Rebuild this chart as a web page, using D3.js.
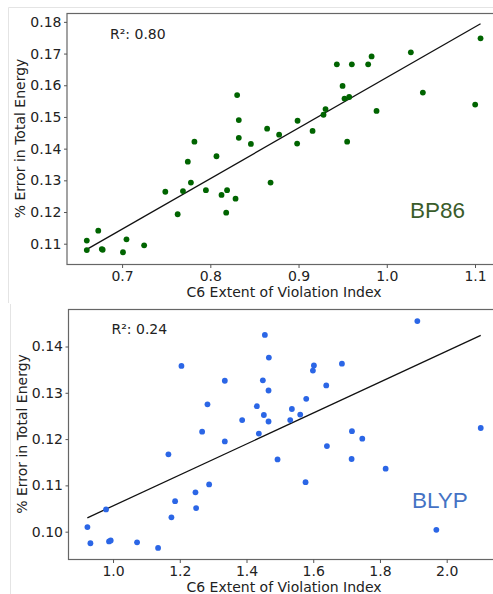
<!DOCTYPE html>
<html>
<head>
<meta charset="utf-8">
<script src="https://cdn.jsdelivr.net/npm/d3@7"></script>
<style>
  body { margin: 0; background: #fff; }
  svg { display: block; }
  .tick text { font-family: "DejaVu Sans", sans-serif; font-size: 14px; fill: #222; }
  .tick line { stroke: #555; }
  .axisText { font-family: "DejaVu Sans", sans-serif; font-size: 14px; fill: #222; }
</style>
</head>
<body>
<div class="chart"></div>
<script>
// BP86 panel (top)
var bp86X = [0.660, 0.660, 0.673, 0.677, 0.678, 0.701, 0.705, 0.725, 0.749, 0.763,
  0.769, 0.7745, 0.778, 0.782, 0.795, 0.807, 0.8127, 0.818, 0.819, 0.8286,
  0.8304, 0.8323, 0.8323, 0.846, 0.8644, 0.8683, 0.878, 0.8989, 0.8984, 0.9159,
  0.9283, 0.9306, 0.9434, 0.9499, 0.9521, 0.9551, 0.9574, 0.9604, 0.9789, 0.9828,
  0.9884, 1.0273, 1.0409, 1.1002, 1.1063];
var bp86Y = [0.1080, 0.1110, 0.1141, 0.1083, 0.1081, 0.1073, 0.1114, 0.1095, 0.1264, 0.1193,
  0.1266, 0.1359, 0.1293, 0.1422, 0.1269, 0.1376, 0.1254, 0.1198, 0.1269, 0.1242,
  0.1569, 0.1490, 0.1434, 0.1415, 0.1463, 0.1293, 0.1444, 0.1488, 0.1416, 0.1456,
  0.1507, 0.1525, 0.1666, 0.1598, 0.1558, 0.1422, 0.1563, 0.1666, 0.1666, 0.1691,
  0.1519, 0.1704, 0.1577, 0.1539, 0.1748];
var bp86FitX = [0.660, 1.1063];
var bp86FitY = [0.1082, 0.1794];
var bp86XTicks = [0.7, 0.8, 0.9, 1.0, 1.1];
var bp86YTicks = [0.11, 0.12, 0.13, 0.14, 0.15, 0.16, 0.17, 0.18];

// BLYP panel (bottom)
var blypX = [0.9232, 0.9322, 0.979, 0.988, 0.993, 1.072, 1.135, 1.166, 1.175, 1.186,
  1.205, 1.247, 1.249, 1.267, 1.283, 1.288, 1.335, 1.335, 1.387, 1.431,
  1.437, 1.449, 1.452, 1.455, 1.466, 1.466, 1.467, 1.493, 1.531, 1.536,
  1.561, 1.577, 1.579, 1.599, 1.602, 1.639, 1.641, 1.686, 1.715, 1.716,
  1.747, 1.817, 1.912, 1.969, 2.102];
var blypY = [0.1010, 0.0975, 0.1048, 0.0979, 0.0981, 0.0977, 0.0965, 0.1167, 0.1031, 0.1066,
  0.1358, 0.1085, 0.1051, 0.1216, 0.1275, 0.1102, 0.1195, 0.1326, 0.1241, 0.1271,
  0.1212, 0.1327, 0.1252, 0.1425, 0.1305, 0.1238, 0.1376, 0.1156, 0.1241, 0.1265,
  0.1253, 0.1107, 0.1287, 0.1348, 0.1359, 0.1316, 0.1185, 0.1363, 0.1157, 0.1217,
  0.1201, 0.1136, 0.1455, 0.1004, 0.1224];
var blypFitX = [0.923, 2.102];
var blypFitY = [0.1030, 0.1424];
var blypXTicks = [1.0, 1.2, 1.4, 1.6, 1.8, 2.0];
var blypYTicks = [0.10, 0.11, 0.12, 0.13, 0.14];

var svgWidth = 493;
var svgHeight = 594;

var svg = d3.select(".chart")
  .append("svg")
  .attr("width", svgWidth)
  .attr("height", svgHeight);

// faint screenshot borders
svg.append("line").attr("x1", 8.5).attr("y1", 7.5).attr("x2", 493).attr("y2", 7.5)
  .attr("stroke", "#e4e4e4");
svg.append("line").attr("x1", 8.5).attr("y1", 7.5).attr("x2", 8.5).attr("y2", 303)
  .attr("stroke", "#e4e4e4");
svg.append("line").attr("x1", 10.5).attr("y1", 304).attr("x2", 10.5).attr("y2", 594)
  .attr("stroke", "#e4e4e4");

function drawPanel(p) {
  var x = d3.scaleLinear().domain(p.xDomain).range([p.left, p.xEnd]);
  var y = d3.scaleLinear().domain(p.yDomain).range([p.bottom, p.top]);

  var g = svg.append("g");

  // frame (right side runs past the crop)
  g.append("rect")
    .attr("x", p.left + 0.5)
    .attr("y", p.top + 0.5)
    .attr("width", 520 - p.left)
    .attr("height", p.bottom - p.top)
    .attr("fill", "none")
    .attr("stroke", "#666")
    .attr("stroke-width", 1.2);

  var bottomAxis = d3.axisBottom(x).tickValues(p.xTicks).tickFormat(d3.format(".1f"))
    .tickSizeOuter(0).tickSize(3.5).tickPadding(3);
  var leftAxis = d3.axisLeft(y).tickValues(p.yTicks).tickFormat(d3.format(".2f"))
    .tickSizeOuter(0).tickSize(3).tickPadding(2.5);

  var gx = g.append("g")
    .attr("transform", "translate(0," + (p.bottom + 0.5) + ")")
    .call(bottomAxis);
  gx.select(".domain").remove();
  gx.selectAll(".tick text").attr("font-size", null);

  var gy = g.append("g")
    .attr("transform", "translate(" + (p.left + 0.5) + ",0)")
    .call(leftAxis);
  gy.select(".domain").remove();
  gy.selectAll(".tick text").attr("font-size", null);

  // regression line
  var line = d3.line().x(function(d) { return x(d[0]); }).y(function(d) { return y(d[1]); });
  g.append("path")
    .datum(d3.zip(p.fitX, p.fitY))
    .attr("d", line)
    .attr("fill", "none")
    .attr("stroke", "#111")
    .attr("stroke-width", 1.3);

  g.selectAll("circle")
    .data(d3.zip(p.xs, p.ys))
    .enter().append("circle")
      .attr("cx", function(d) { return x(d[0]); })
      .attr("cy", function(d) { return y(d[1]); })
      .attr("r", 2.9)
      .attr("fill", p.color);

  g.append("text")
    .attr("class", "axisText")
    .attr("x", p.left + 43.5)
    .attr("y", p.top + p.rOffset)
    .text(p.rText);

  g.append("text")
    .attr("x", p.nameX)
    .attr("y", p.nameY)
    .attr("font-family", "Liberation Sans, Arial, sans-serif")
    .attr("font-size", 22.5)
    .attr("fill", p.nameColor)
    .text(p.name);

  g.append("text")
    .attr("class", "axisText")
    .attr("transform", "rotate(-90)")
    .attr("x", -(p.top + p.bottom) / 2)
    .attr("y", p.yLabelX)
    .attr("text-anchor", "middle")
    .text("% Error in Total Energy");

  g.append("text")
    .attr("class", "axisText")
    .attr("x", 284)
    .attr("y", p.bottom + 33)
    .attr("text-anchor", "middle")
    .text("C6 Extent of Violation Index");
}

drawPanel({
  xs: bp86X, ys: bp86Y, fitX: bp86FitX, fitY: bp86FitY,
  xTicks: bp86XTicks, yTicks: bp86YTicks,
  xDomain: [0.637, 1.1], yDomain: [0.1036, 0.1828],
  left: 66.5, xEnd: 475, top: 13, bottom: 264,
  color: "#006400", rText: "R\u00b2: 0.80", rOffset: 26,
  name: "BP86", nameColor: "#3a5c2b", nameX: 410, nameY: 218,
  yLabelX: 25
});

drawPanel({
  xs: blypX, ys: blypY, fitX: blypFitX, fitY: blypFitY,
  xTicks: blypXTicks, yTicks: blypYTicks,
  xDomain: [0.865, 2.0], yDomain: [0.0941, 0.1481],
  left: 68, xEnd: 446.7, top: 309, bottom: 559,
  color: "#2b66e6", rText: "R\u00b2: 0.24", rOffset: 25,
  name: "BLYP", nameColor: "#4472c4", nameX: 412, nameY: 508,
  yLabelX: 26.5
});
</script>
</body>
</html>
